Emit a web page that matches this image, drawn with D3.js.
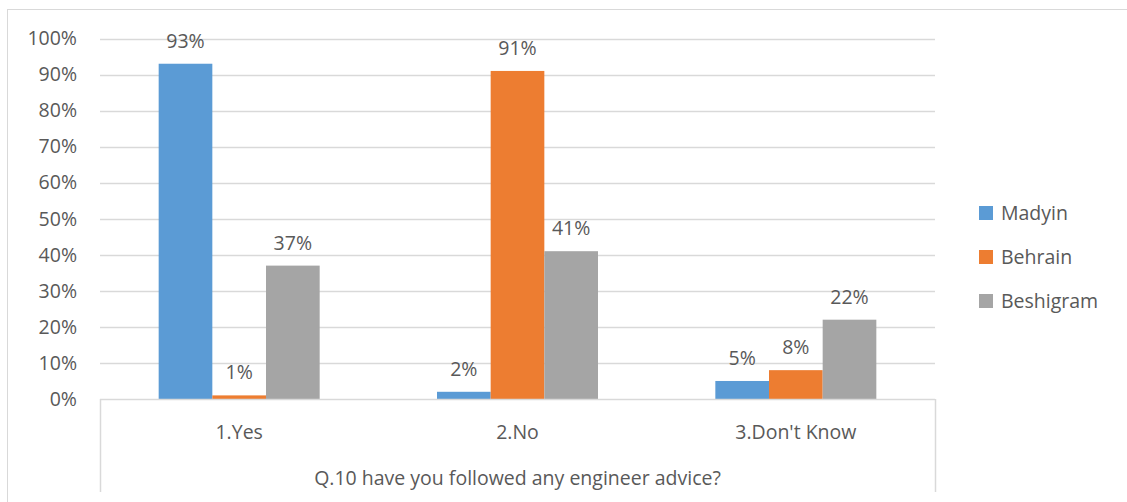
<!DOCTYPE html>
<html>
<head>
<meta charset="utf-8">
<script src="https://cdn.jsdelivr.net/npm/d3@7"></script>
<style>
  html, body { margin: 0; padding: 0; background: #fff; }
  svg text { font-family: "Open Sans", "Noto Sans", sans-serif; fill: #595959; }
</style>
</head>
<body>
<svg id="chart" width="1127" height="502"></svg>
<script>
// Survey answers by village (share of respondents)
const categories = ["1.Yes", "2.No", "3.Don't Know"];
const seriesNames = ["Madyin", "Behrain", "Beshigram"];
const madyin = [0.93, 0.02, 0.05];
const behrain = [0.01, 0.91, 0.08];
const beshigram = [0.37, 0.41, 0.22];
const yTicks = [0, 0.1, 0.2, 0.3, 0.4, 0.5, 0.6, 0.7, 0.8, 0.9, 1.0];
const axisTitle = "Q.10 have you followed any engineer advice?";
const colors = ["#5B9BD5", "#ED7D31", "#A5A5A5"];

const seriesValues = [madyin, behrain, beshigram];
const svg = d3.select("#chart");
const fontSize = 19.5;

const plot = { left: 100, right: 935, top: 38.5, bottom: 399 };

// outer chart frame
svg.append("rect")
  .attr("x", 7.5).attr("y", 9.5)
  .attr("width", 1140).attr("height", 520)
  .attr("fill", "none").attr("stroke", "#D9D9D9").attr("stroke-width", 1);

const y = d3.scaleLinear().domain([0, 1]).range([plot.bottom, plot.top]);
const x0 = d3.scaleBand().domain(categories).range([plot.left, plot.right]).paddingInner(0).paddingOuter(0);
const groupWidth = 161;
const x1 = d3.scaleBand().domain(seriesNames).range([0, groupWidth]).padding(0);

// gridlines and y tick labels
const yAxis = d3.axisLeft(y).tickValues(yTicks).tickFormat(d3.format(".0%")).tickSize(0).tickPadding(23);
const gy = svg.append("g").attr("transform", `translate(${plot.left},0)`).call(yAxis);
gy.select(".domain").remove();
gy.selectAll("text").attr("font-size", fontSize).style("fill", "#595959").attr("font-family", "'Open Sans', sans-serif");

svg.append("g").selectAll("line")
  .data(yTicks.filter(d => d > 0))
  .join("line")
  .attr("x1", plot.left).attr("x2", plot.right)
  .attr("y1", d => Math.round(y(d)) + 0.5).attr("y2", d => Math.round(y(d)) + 0.5)
  .attr("stroke", "#D9D9D9").attr("stroke-width", 1.5);

// bars
const groups = svg.append("g").selectAll("g")
  .data(categories)
  .join("g")
  .attr("transform", c => `translate(${x0(c) + (x0.bandwidth() - groupWidth) / 2},0)`);

groups.selectAll("rect")
  .data((c, i) => seriesNames.map((s, j) => ({ s, j, v: seriesValues[j][i] })))
  .join("rect")
  .attr("x", d => x1(d.s))
  .attr("width", x1.bandwidth())
  .attr("y", d => y(d.v))
  .attr("height", d => y(0) - y(d.v))
  .attr("fill", d => colors[d.j]);

// value labels
groups.selectAll("text.val")
  .data((c, i) => seriesNames.map((s, j) => ({ s, j, v: seriesValues[j][i] })))
  .join("text")
  .attr("class", "val")
  .attr("x", d => x1(d.s) + x1.bandwidth() / 2)
  .attr("y", d => y(d.v) - 16)
  .attr("text-anchor", "middle")
  .attr("font-size", fontSize)
  .text(d => d3.format(".0%")(d.v));

// category axis with outer group box
const gx = svg.append("g").attr("transform", `translate(0,${plot.bottom})`);
gx.append("line")
  .attr("x1", plot.left).attr("x2", plot.right)
  .attr("y1", 0.5).attr("y2", 0.5)
  .attr("stroke", "#D9D9D9").attr("stroke-width", 1.5);
[plot.left, plot.right].forEach(px => {
  gx.append("line")
    .attr("x1", px + 0.5).attr("x2", px + 0.5)
    .attr("y1", 0).attr("y2", 93)
    .attr("stroke", "#D9D9D9").attr("stroke-width", 1.5);
});
gx.selectAll("text.cat")
  .data(categories)
  .join("text")
  .attr("class", "cat")
  .attr("x", c => x0(c) + x0.bandwidth() / 2)
  .attr("y", 40)
  .attr("text-anchor", "middle")
  .attr("font-size", fontSize)
  .text(c => c);
gx.append("text")
  .attr("x", (plot.left + plot.right) / 2)
  .attr("y", 86)
  .attr("text-anchor", "middle")
  .attr("font-size", fontSize)
  .text(axisTitle);

// legend
const legend = svg.append("g").attr("transform", "translate(979,213)");
const li = legend.selectAll("g").data(seriesNames).join("g")
  .attr("transform", (d, i) => `translate(0,${i * 44})`);
li.append("rect").attr("x", 0).attr("y", -7).attr("width", 14).attr("height", 14)
  .attr("fill", (d, i) => colors[i]);
li.append("text").attr("x", 22).attr("y", 7).attr("font-size", fontSize).text(d => d);
</script>
</body>
</html>
